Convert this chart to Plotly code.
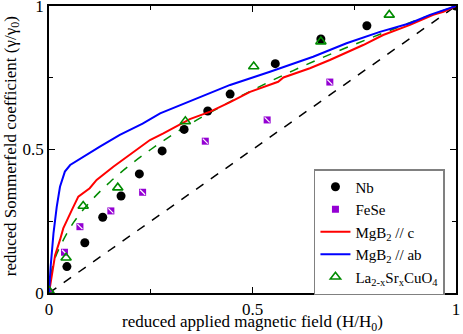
import plotly.graph_objects as go

# Nb (black circles)
nb_x = [0.0, 0.044, 0.088, 0.132, 0.177, 0.222, 0.278, 0.332, 0.390, 0.445, 0.556, 0.668, 0.781, 1.0]
nb_y = [0.0, 0.092, 0.175, 0.264, 0.338, 0.415, 0.495, 0.570, 0.634, 0.693, 0.799, 0.885, 0.931, 1.0]

# FeSe (violet squares)
fese_x = [0.0, 0.038, 0.076, 0.152, 0.230, 0.384, 0.536, 0.690]
fese_y = [0.0, 0.142, 0.231, 0.286, 0.351, 0.529, 0.603, 0.735]

# La2-xSrxCuO4 (open triangles)
lsco_x = [0.0, 0.042, 0.084, 0.169, 0.335, 0.503, 0.668, 0.836]
lsco_y = [0.008, 0.123, 0.303, 0.367, 0.598, 0.789, 0.876, 0.969]

# MgB2 // c
mgc_x = [0.0, 0.007, 0.015, 0.027, 0.035, 0.056, 0.072, 0.10, 0.117, 0.158, 0.199, 0.248, 0.281,
         0.346, 0.396, 0.445, 0.494, 0.563, 0.576, 0.641, 0.690, 0.772, 0.821, 0.887, 0.944, 0.969, 1.0]
mgc_y = [0.0, 0.069, 0.132, 0.185, 0.225, 0.289, 0.336, 0.365, 0.394, 0.44, 0.481, 0.533, 0.556,
         0.606, 0.632, 0.665, 0.701, 0.736, 0.751, 0.783, 0.812, 0.864, 0.899, 0.934, 0.969, 0.98, 1.0]

# MgB2 // ab
mgab_x = [0.0, 0.004, 0.011, 0.019, 0.027, 0.039, 0.052, 0.084, 0.125, 0.174, 0.230, 0.273, 0.36,
          0.445, 0.543, 0.649, 0.731, 0.813, 0.887, 0.936, 1.0]
mgab_y = [0.0, 0.091, 0.208, 0.30, 0.37, 0.423, 0.446, 0.475, 0.51, 0.551, 0.59, 0.626, 0.676,
          0.725, 0.771, 0.823, 0.87, 0.91, 0.94, 0.969, 1.0]

# green dashed guide
fit_x = [0.0, 0.01, 0.03, 0.06, 0.1, 0.15, 0.2, 0.25, 0.3, 0.35, 0.4, 0.5, 0.6, 0.7, 0.8, 0.9, 1.0]
fit_y = [0.0, 0.1, 0.17, 0.245, 0.316, 0.387, 0.447, 0.5, 0.548, 0.592, 0.632, 0.707, 0.775,
         0.837, 0.894, 0.949, 1.0]

# black dashed diagonal
diag_x = [0.0, 1.0]
diag_y = [0.0, 1.0]

GREEN = '#008b00'
VIOLET = '#9400d3'
FONT = 'Liberation Serif'

fig = go.Figure()

fig.add_trace(go.Scatter(x=diag_x, y=diag_y, mode='lines', showlegend=False,
                         line=dict(color='black', width=1.5, dash='dash')))
fig.add_trace(go.Scatter(x=fit_x, y=fit_y, mode='lines', showlegend=False, line_shape='spline',
                         line=dict(color=GREEN, width=1.5, dash='dash')))

fig.add_trace(go.Scatter(name='Nb', x=nb_x, y=nb_y, mode='markers',
                         marker=dict(size=9, color='black')))
fig.add_trace(go.Scatter(name='FeSe', x=fese_x, y=fese_y, mode='markers',
                         marker=dict(size=7, symbol='square', color=VIOLET)))
fig.add_trace(go.Scatter(x=fese_x, y=fese_y, mode='markers', showlegend=False, hoverinfo='skip',
                         marker=dict(size=5, symbol='line-nw', line=dict(color='white', width=1.2))))
fig.add_trace(go.Scatter(name='MgB<sub>2</sub> // c', x=mgc_x, y=mgc_y, mode='lines',
                         line=dict(color='red', width=2)))
fig.add_trace(go.Scatter(name='MgB<sub>2</sub> // ab', x=mgab_x, y=mgab_y, mode='lines',
                         line=dict(color='blue', width=2)))
fig.add_trace(go.Scatter(name='La<sub>2-x</sub>Sr<sub>x</sub>CuO<sub>4</sub>', x=lsco_x, y=lsco_y,
                         mode='markers',
                         marker=dict(size=9, symbol='triangle-up-open', color=GREEN,
                                     line=dict(color=GREEN, width=1.6))))

axis_common = dict(range=[0, 1], tickvals=[0, 0.5, 1], ticktext=['0', '0.5', '1'],
                   ticks='inside', ticklen=6, tickcolor='black', showline=True, linecolor='black',
                   linewidth=1.5, mirror='ticks', showgrid=False, zeroline=False, automargin=False,
                   ticklabeloverflow='allow',
                   minor=dict(tickvals=[0.25, 0.75], ticks='inside', ticklen=4, tickcolor='black'),
                   tickfont=dict(size=17, color='black', family=FONT))

fig.update_layout(
    width=463, height=334,
    margin=dict(l=49, r=7, t=6, b=41),
    plot_bgcolor='white', paper_bgcolor='white',
    font=dict(family=FONT, size=17, color='black'),
    xaxis=dict(ticklabelstandoff=0, **axis_common),
    yaxis=dict(ticklabelstandoff=0, **axis_common),
    legend=dict(x=0.651, y=0.432, xanchor='left', yanchor='top', bgcolor='white',
                bordercolor='#808080', borderwidth=1.5, font=dict(size=15, family=FONT),
                tracegroupgap=0, itemwidth=30),
    annotations=[
        dict(text='reduced applied magnetic field (H/H<sub>0</sub>)', x=0.5, y=-0.104,
             xref='paper', yref='paper', showarrow=False, xanchor='center', yanchor='middle',
             font=dict(size=17, family=FONT)),
        dict(text='reduced Sommerfeld coefficient (γ/γ<sub>0</sub>)', x=-0.092, y=0.51,
             xref='paper', yref='paper', showarrow=False, xanchor='center', yanchor='middle',
             textangle=-90, font=dict(size=17, family=FONT)),
    ],
)

# the page body has a default 8px margin; drop it so the figure sits at the window corner
fig.write_html("out.html", config={'displayModeBar': False},
               post_script="document.body.style.margin='0';")
